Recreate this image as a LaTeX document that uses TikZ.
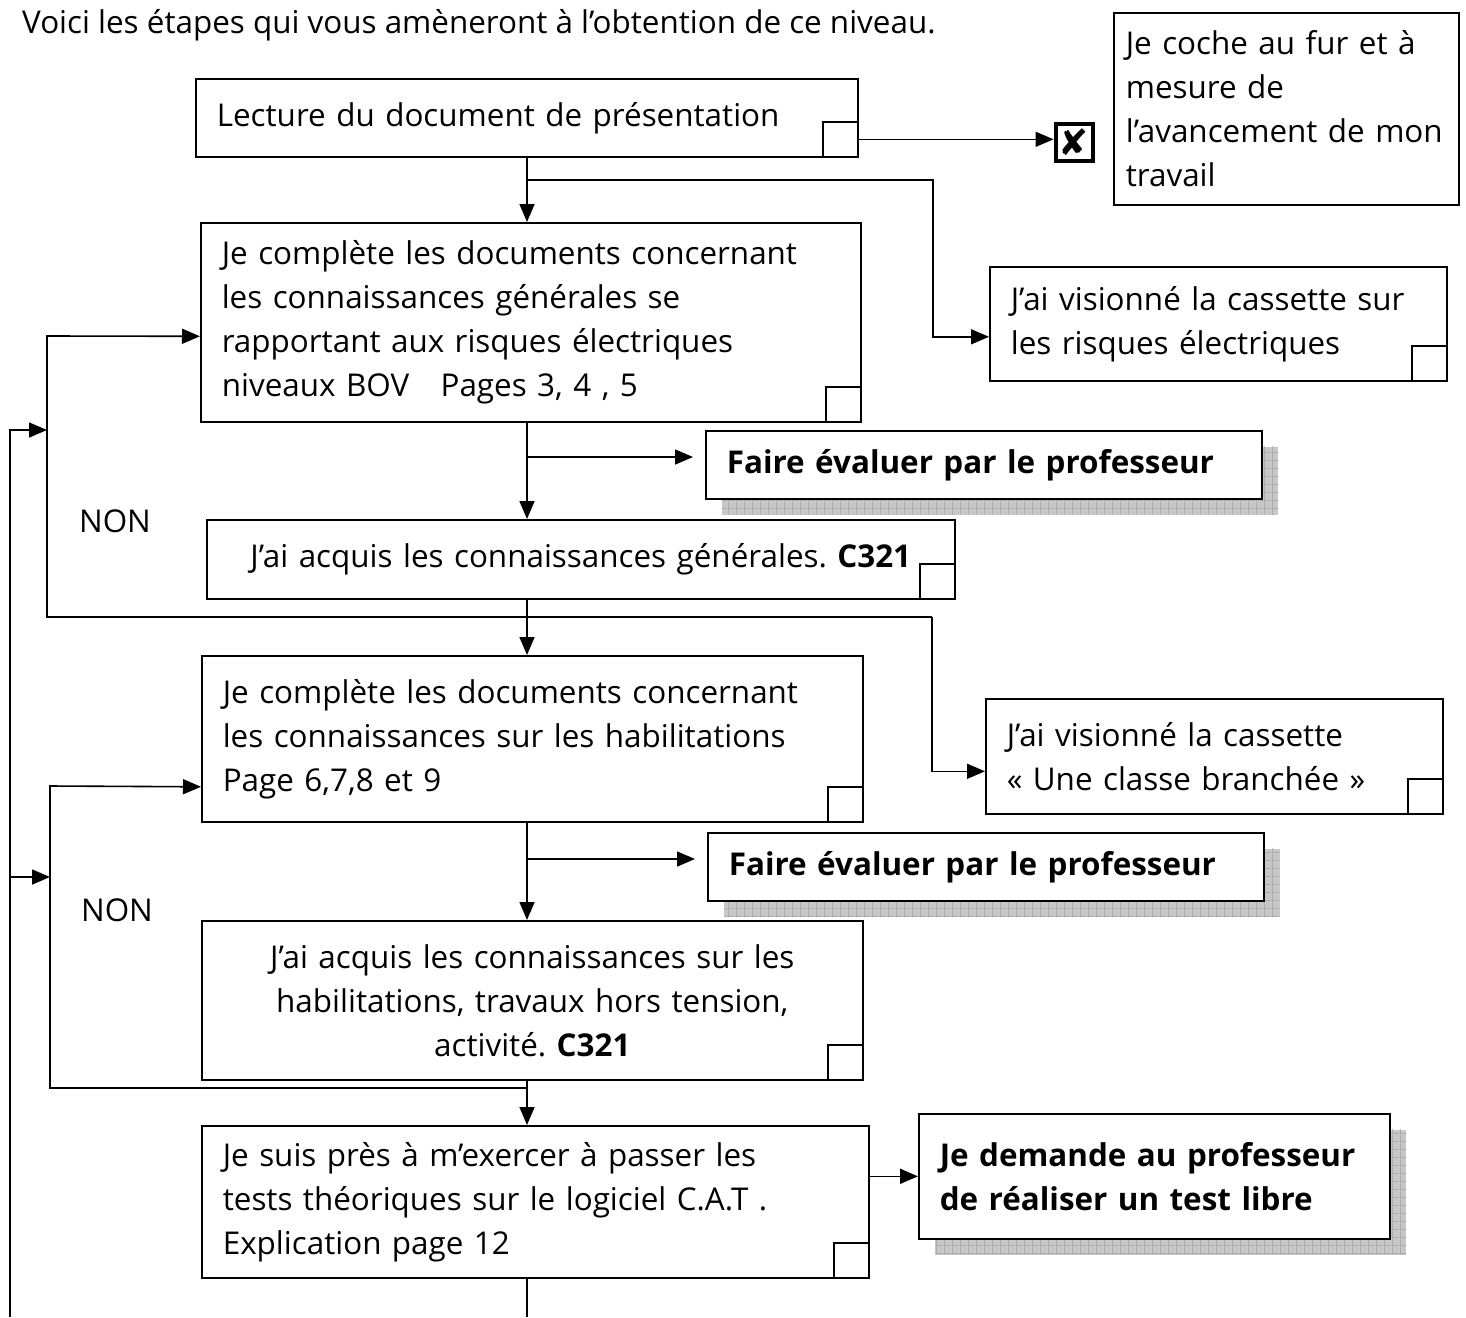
\documentclass[tikz,border=0pt]{standalone}
\usepackage{fontspec}
\setmainfont{Open Sans}
\newfontfamily\symbfont{DejaVu Sans}
\usetikzlibrary{arrows.meta,shadows,patterns}
\frenchspacing

\pgfdeclarepatternformonly{shadowgrid}{\pgfpointorigin}{\pgfpoint{8pt}{8pt}}{\pgfpoint{8pt}{8pt}}{%
  \pgfpathrectangle{\pgfpointorigin}{\pgfpoint{8pt}{0.8pt}}%
  \pgfpathrectangle{\pgfpointorigin}{\pgfpoint{0.8pt}{8pt}}%
  \pgfusepath{fill}}

\tikzset{
  texte/.style={font=\fontsize{31.4}{44}\selectfont},
  etape/.style={rectangle, draw, line width=1.6pt, fill=white, anchor=north west,
                align=left, inner xsep=21pt, inner ysep=0pt, texte},
  evaluer/.style={etape, font=\fontsize{31.4}{44}\selectfont\bfseries,
                  drop shadow={shadow xshift=16pt, shadow yshift=-16pt, fill=black!22, opacity=1,
                               postaction={pattern=shadowgrid, pattern color=black!38}}},
  chk/.style={rectangle, draw, line width=1.6pt, fill=white, minimum size=35pt,
              inner sep=0pt, anchor=south east},
  fleche/.style={line width=1.6pt, -{Triangle[length=18pt,width=15pt]}},
  trait/.style={line width=1.6pt}
}

\begin{document}
\begin{tikzpicture}[x=1pt, y=-1pt]
\useasboundingbox (0,0) rectangle (1466,1317);

% titre
\node[texte, anchor=base west, inner sep=0pt] (titre) at (22,33)
  {Voici les étapes qui vous amèneront à l’obtention de ce niveau.};

% les boites
\node[etape, text width=620pt, minimum height=78pt] (lecture) at (195,78)
  {Lecture du document de présentation};
\node[etape, text width=321pt, minimum height=192pt, inner xsep=12pt] (coche) at (1113,12)
  {Je coche au fur et à\\mesure de\\l’avancement de mon\\travail};
\node[etape, text width=618pt, minimum height=199pt] (complete1) at (200,222)
  {Je complète les documents concernant\\les connaissances générales se\\rapportant aux risques électriques\\niveaux BOV \ \ Pages 3, 4 , 5};
\node[etape, text width=415pt, minimum height=114pt] (video1) at (989,266)
  {J’ai visionné la cassette sur\\les risques électriques};
\node[evaluer, text width=514pt, minimum height=68pt] (faire1) at (705,430)
  {Faire évaluer par le professeur};
\node[etape, align=center, text width=706pt, minimum height=79pt] (acquis1) at (206,519)
  {J’ai acquis les connaissances générales. \textbf{C321}};
\node[etape, text width=619pt, minimum height=166pt] (complete2) at (201,655)
  {Je complète les documents concernant\\les connaissances sur les habilitations\\Page 6,7,8 et 9};
\node[etape, text width=415pt, minimum height=115pt] (video2) at (985,698)
  {J’ai visionné la cassette\\« Une classe branchée »};
\node[evaluer, text width=514pt, minimum height=68pt] (faire2) at (707,832)
  {Faire évaluer par le professeur};
\node[etape, align=center, text width=619pt, minimum height=159pt] (acquis2) at (201,920)
  {J’ai acquis les connaissances sur les\\habilitations, travaux hors tension,\\activité. \textbf{C321}};
\node[etape, text width=625pt, minimum height=152pt] (test) at (201,1125)
  {Je suis près à m’exercer à passer les\\tests théoriques sur le logiciel C.A.T .\\Explication page 12};
\node[evaluer, text width=429pt, minimum height=125pt] (libre) at (918,1113)
  {Je demande au professeur\\de réaliser un test libre};

% cases a cocher
\foreach \b in {lecture, complete1, video1, acquis1, complete2, video2, acquis2, test}
  \node[chk] (chk-\b) at (\b.south east) {};
\node[draw, line width=4pt, minimum size=37pt, inner sep=0pt, font=\fontsize{36}{36}\selectfont\symbfont]
  (xbox) at (1074,142) {✘};

\node[texte] (non1) at (115,521) {NON};
\node[texte] (non2) at (117,910) {NON};

% liaisons
\coordinate (axe) at (527,0);
\draw[fleche] (axe |- lecture.south) -- (axe |- complete1.north);
\draw[fleche] (chk-lecture.east) -- (chk-lecture.east -| xbox.west);
\coordinate (j1) at (527,180);
\draw[fleche] (j1) -- ++(406,0) |- ([yshift=-13pt]video1.west);

\draw[fleche] (axe |- complete1.south) -- (axe |- acquis1.north);
\coordinate (j2) at (527,457);
\draw[fleche, shorten >=12pt] (j2) -- (j2 -| faire1.west);

\draw[fleche] (axe |- acquis1.south) -- (axe |- complete2.north);
\coordinate (j3) at (527,617);
\draw[trait] (j3) -- (932,617);
\draw[fleche] (j3) -| (47,336) -- ([yshift=-14pt]complete1.west);
\draw[fleche] (932,617) |- ([yshift=-15pt]video2.west);

\draw[fleche] (axe |- complete2.south) -- (axe |- acquis2.north);
\coordinate (j4) at (527,859);
\draw[fleche, shorten >=12pt] (j4) -- (j4 -| faire2.west);

\coordinate (j5) at (527,1088);
\draw[fleche] (axe |- acquis2.south) -- (axe |- test.north);
\draw[fleche] (j5) -| (50,786) -- ([yshift=-48pt]complete2.west);

\draw[fleche] (test.east |- libre.west) -- (libre.west);
\coordinate (suite) at (527,1317);
\draw[trait] (axe |- test.south) -- (suite);

% grande boucle
\coordinate (retour) at (10,1317);
\draw[fleche] (retour) |- (47,430);
\draw[fleche] (10,877) -- (50,877);
\end{tikzpicture}
\end{document}
